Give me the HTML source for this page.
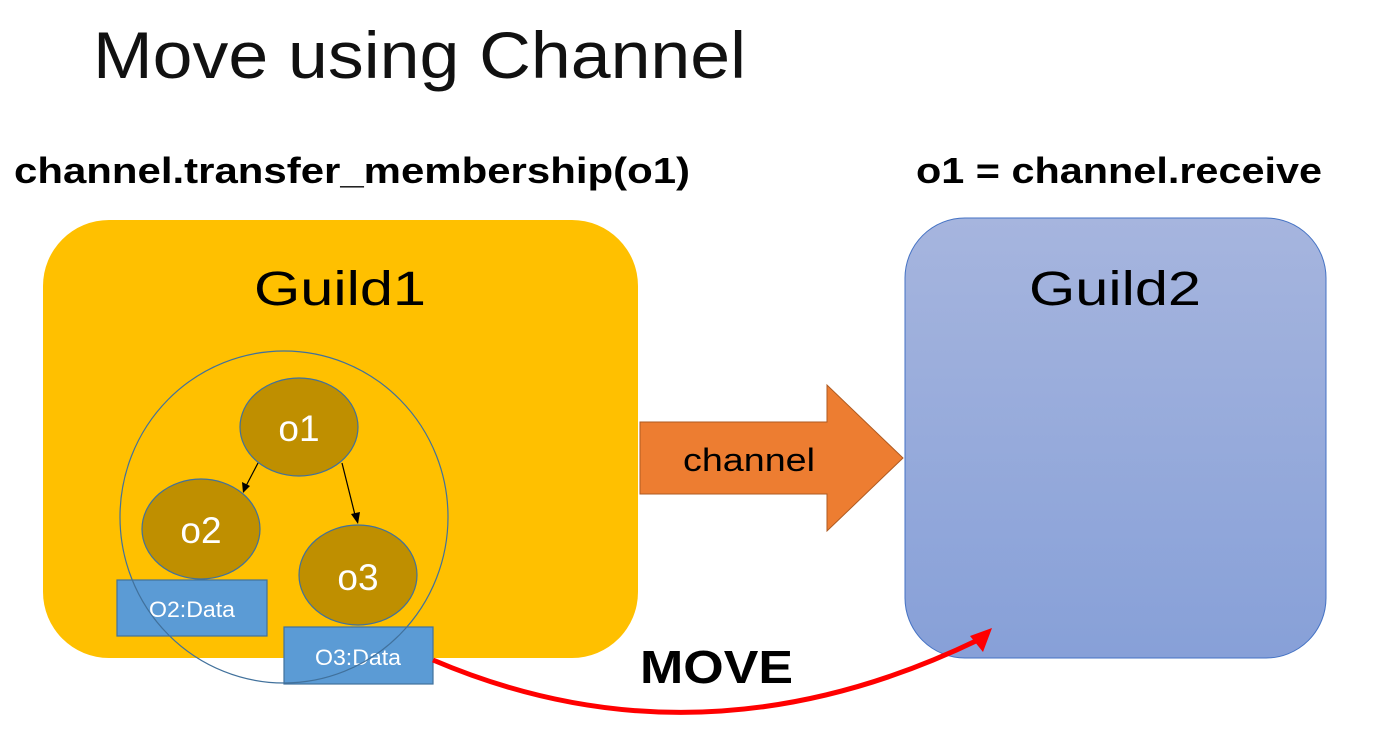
<!DOCTYPE html>
<html><head><meta charset="utf-8"><style>
html,body{margin:0;padding:0;background:#fff;}
svg{display:block;font-family:"Liberation Sans",sans-serif;}
</style></head><body>
<svg width="1381" height="730" viewBox="0 0 1381 730" xmlns="http://www.w3.org/2000/svg">
<defs>
<linearGradient id="g2" x1="0" y1="0" x2="0" y2="1">
<stop offset="0" stop-color="#a6b5de"/><stop offset="1" stop-color="#87a0d8"/>
</linearGradient>
</defs>
<text x="93" y="78" font-size="66" fill="#111" textLength="653" lengthAdjust="spacingAndGlyphs">Move using Channel</text>
<text x="14" y="183" font-size="36" font-weight="bold" textLength="676" lengthAdjust="spacingAndGlyphs">channel.transfer_membership(o1)</text>
<text x="916" y="183" font-size="36" font-weight="bold" textLength="406" lengthAdjust="spacingAndGlyphs">o1 = channel.receive</text>

<rect x="43" y="220" width="595" height="438" rx="66" fill="#ffc000"/>
<rect x="905" y="218" width="421" height="440" rx="60" fill="url(#g2)" stroke="#4472c4" stroke-width="1"/>
<text x="340" y="305" font-size="48" text-anchor="middle" textLength="172" lengthAdjust="spacingAndGlyphs">Guild1</text>
<text x="1115" y="305" font-size="48" text-anchor="middle" textLength="172" lengthAdjust="spacingAndGlyphs">Guild2</text>

<polygon points="640,422 827,422 827,385 903,458 827,531 827,494 640,494" fill="#ed7d31" stroke="#ae5a21" stroke-width="1"/>
<text x="749" y="471" font-size="32" text-anchor="middle" textLength="132" lengthAdjust="spacingAndGlyphs">channel</text>

<ellipse cx="299" cy="427" rx="59" ry="49" fill="#bf8f00" stroke="#41719c" stroke-width="1.2"/>
<ellipse cx="201" cy="529" rx="59" ry="50" fill="#bf8f00" stroke="#41719c" stroke-width="1.2"/>
<ellipse cx="358" cy="575" rx="59" ry="50" fill="#bf8f00" stroke="#41719c" stroke-width="1.2"/>
<text x="299" y="441" font-size="37" fill="#fff" text-anchor="middle">o1</text>
<text x="201" y="543" font-size="37" fill="#fff" text-anchor="middle">o2</text>
<text x="358" y="590" font-size="37" fill="#fff" text-anchor="middle">o3</text>
<line x1="258" y1="463" x2="246" y2="486" stroke="#000" stroke-width="1.2"/>
<polygon points="243,493 242,482 250,486" fill="#000"/>
<line x1="342" y1="463" x2="355" y2="515" stroke="#000" stroke-width="1.2"/>
<polygon points="358,524 351,514 360,512" fill="#000"/>

<rect x="117" y="580" width="150" height="56" fill="#5b9bd5" stroke="#41719c" stroke-width="1.2"/>
<text x="192" y="617" font-size="22" fill="#fff" text-anchor="middle" textLength="86" lengthAdjust="spacingAndGlyphs">O2:Data</text>
<rect x="284" y="627" width="149" height="57" fill="#5b9bd5" stroke="#41719c" stroke-width="1.2"/>
<text x="358" y="665" font-size="22" fill="#fff" text-anchor="middle" textLength="86" lengthAdjust="spacingAndGlyphs">O3:Data</text>

<ellipse cx="284" cy="517" rx="164" ry="166" fill="none" stroke="#41719c" stroke-width="1.2"/>

<path d="M433,660 Q700,774 978,640" fill="none" stroke="#ff0000" stroke-width="5"/>
<polygon points="992,628 970,636 983,652" fill="#ff0000"/>
<text x="640" y="683" font-size="46" font-weight="bold" textLength="153" lengthAdjust="spacingAndGlyphs">MOVE</text>
</svg>
</body></html>
